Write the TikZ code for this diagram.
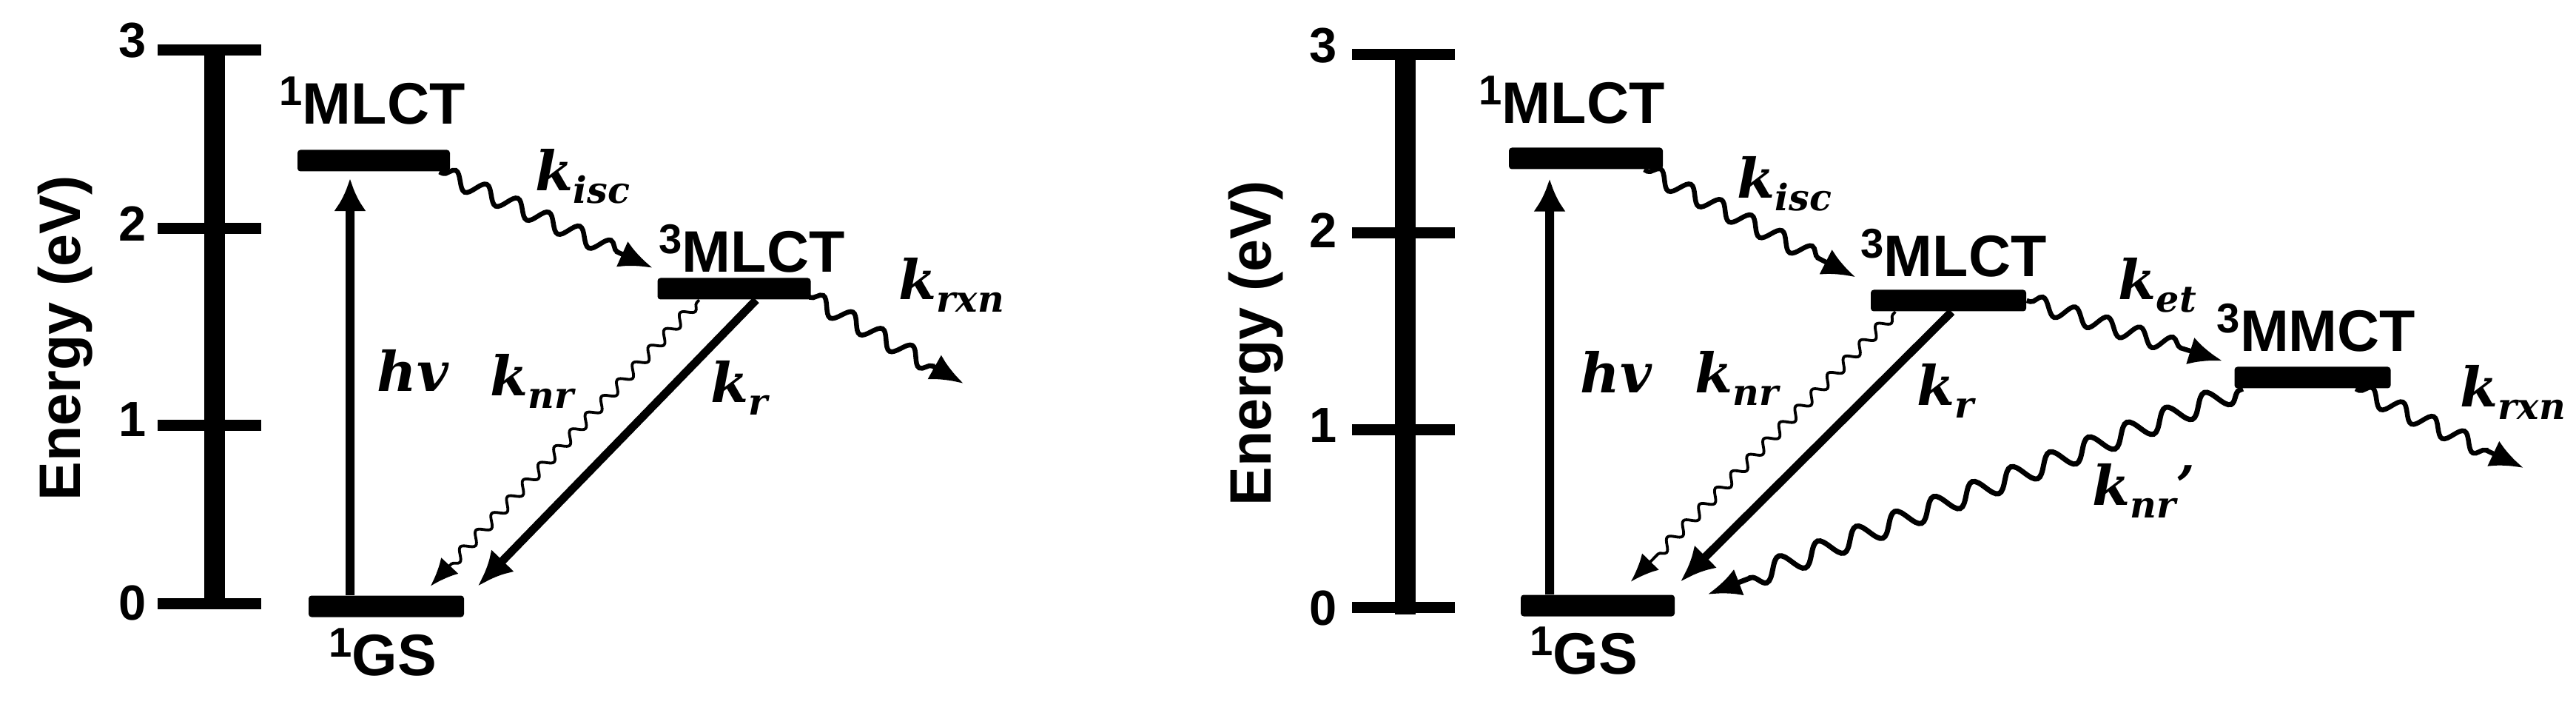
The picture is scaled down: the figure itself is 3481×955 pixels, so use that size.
\documentclass[tikz,border=0pt]{standalone}
\usepackage{fontspec}
\setmainfont{Liberation Sans}
\newfontfamily\kfont{DejaVu Serif}
\usetikzlibrary{arrows.meta,decorations.pathmorphing,calc}
\newcommand{\spinsup}[1]{\raisebox{2.5mm}{\fontsize{16}{16}\selectfont #1}}
\newcommand{\krate}[1]{k\raisebox{-1.7mm}{\fontsize{14}{14}\selectfont #1}}
\tikzset{
  lvl/.style={fill=black, rounded corners=0.4mm, minimum height=2.9mm, inner sep=0pt, draw=none},
  statelab/.style={font=\fontsize{22.5}{24}\selectfont\bfseries, inner sep=0pt, anchor=base},
  tickln/.style={line width=1.5mm},
  axisbar/.style={line width=2.8mm},
  ticklab/.style={font=\fontsize{19}{20}\selectfont\bfseries, inner sep=0pt},
  elab/.style={font=\fontsize{22.5}{24}\selectfont\bfseries, rotate=90, anchor=base, inner sep=0pt},
  ratelab/.style={font=\kfont\fontsize{21}{22}\selectfont\bfseries\itshape, inner sep=0pt, anchor=base west},
  wavy/.style={decorate, decoration={snake, amplitude=1.1mm, segment length=4.6mm, pre length=0.5mm, post length=4.5mm}, line width=0.65mm, -{Latex[length=4.5mm,width=3.8mm]}},
  thinwavy/.style={decorate, decoration={snake, amplitude=0.7mm, segment length=3.1mm, pre length=0.5mm, post length=3.8mm}, line width=0.38mm, -{Latex[length=3.8mm,width=3.2mm]}},
  bigwavy/.style={decorate, decoration={snake, amplitude=1.4mm, segment length=5.6mm, pre length=0.5mm, post length=4.5mm}, line width=0.7mm, -{Latex[length=4.5mm,width=3.8mm]}},
  photon/.style={line width=1.2mm, -{Latex[length=4.4mm,width=4.4mm]}},
  radiative/.style={line width=1.1mm, -{Latex[length=4.8mm,width=4.3mm]}},
}
\begin{document}
\begin{tikzpicture}[x=0.1mm,y=-0.1mm]
\useasboundingbox (0,0) rectangle (3481,955);
\fill[white] (0,0) rectangle (3481,955);

% ---------------- left panel: axis ----------------
\draw[axisbar] (290,68) -- (290,823);
\foreach \yy/\ly/\t in {68/55/3, 309/302/2, 574/567/1, 815/815/0} {
  \draw[tickln] (213,\yy) -- (353,\yy);
  \node[ticklab] (tla\t) at (179,\ly) {\t};
}
\node[elab] (ea) at (108,457) {Energy (eV)};

% levels
\node[lvl, minimum width=20.6mm] (m1) at (505,217) {};
\node[lvl, minimum width=21mm]   (g1) at (522,819) {};
\node[lvl, minimum width=20.7mm] (t1) at (992,390) {};
\node[statelab] (m1lab) at (503,168) {\spinsup{1}MLCT};
\node[statelab] (g1lab) at (517,912) {\spinsup{1}GS};
\node[statelab] (t1lab) at (1016,368) {\spinsup{3}MLCT};

% rate labels
\node[ratelab] (hva)   at (509,528)  {hv};
\node[ratelab] (kisca) at (723,258)  {\krate{isc}};
\node[ratelab] (knra)  at (662,534)  {\krate{nr}};
\node[ratelab] (kra)   at (960,544)  {\krate{r}};
\node[ratelab] (krxna) at (1214,405) {\krate{rxn}};

% connectors
\coordinate (rxna) at (1302,518);
\draw[photon] ([xshift=-4.9mm]g1.north) -- ([xshift=-3.2mm,yshift=-0.9mm]m1.south);
\draw[wavy] ([xshift=-1.5mm]m1.south east) -- ([xshift=-0.6mm,yshift=1.3mm]t1.north west);
\draw[wavy] ([xshift=-0.6mm,yshift=0.6mm]t1.south east) -- (rxna);
\draw[thinwavy] ([xshift=5.7mm]t1.south west) -- ([xshift=-4.6mm,yshift=1.2mm]g1.north east);
\draw[radiative] ([xshift=13.4mm]t1.south west) -- ([xshift=1.8mm,yshift=1.2mm]g1.north east);

% ---------------- right panel: axis ----------------
\draw[axisbar] (1899,74) -- (1899,830);
\foreach \yy/\ly/\t in {74/62/3, 315/311/2, 580/575/1, 820/822/0} {
  \draw[tickln] (1827,\yy) -- (1966,\yy);
  \node[ticklab] (tlb\t) at (1788,\ly) {\t};
}
\node[elab] (eb) at (1717,464) {Energy (eV)};

% levels
\node[lvl, minimum width=20.8mm] (m2) at (2143,214) {};
\node[lvl, minimum width=20.8mm] (g2) at (2159,818) {};
\node[lvl, minimum width=21mm]   (t2) at (2633,406) {};
\node[lvl, minimum width=21.1mm] (c2) at (3125,510) {};
\node[statelab] (m2lab) at (2124,167) {\spinsup{1}MLCT};
\node[statelab] (g2lab) at (2140,910) {\spinsup{1}GS};
\node[statelab] (t2lab) at (2640,374) {\spinsup{3}MLCT};
\node[statelab] (c2lab) at (3130,475) {\spinsup{3}MMCT};

% rate labels
\node[ratelab] (hvb)   at (2135,530) {hv};
\node[ratelab] (kiscb) at (2347,268) {\krate{isc}};
\node[ratelab] (knrb)  at (2290,530) {\krate{nr}};
\node[ratelab] (krb)   at (2590,547) {\krate{r}};
\node[ratelab] (ketb)  at (2862,405) {\krate{et}};
\node[ratelab] (krxnb) at (3324,549) {\krate{rxn}};
\node[ratelab] (knrpb) at (2827,682) {\krate{nr}’};

% connectors
\coordinate (rxnb) at (3410,632);
\draw[photon] ([xshift=-6.5mm]g2.north) -- ([xshift=-4.9mm,yshift=-1.25mm]m2.south);
\draw[wavy] ([xshift=-2.6mm]m2.south east) -- ([xshift=-2mm,yshift=1.65mm]t2.north west);
\draw[thinwavy] ([xshift=3.4mm]t2.south west) -- ([xshift=-6mm,yshift=1.7mm]g2.north east);
\draw[radiative] ([xshift=11mm]t2.south west) -- ([xshift=0.7mm,yshift=1.7mm]g2.north east);
\draw[wavy] (t2.east) -- ([xshift=-1.6mm,yshift=0.75mm]c2.north west);
\draw[wavy] ([xshift=-4.8mm]c2.south east) -- (rxnb);
\draw[bigwavy] ([xshift=1.2mm]c2.south west) -- ([xshift=4.4mm]g2.north east);
\end{tikzpicture}
\end{document}
